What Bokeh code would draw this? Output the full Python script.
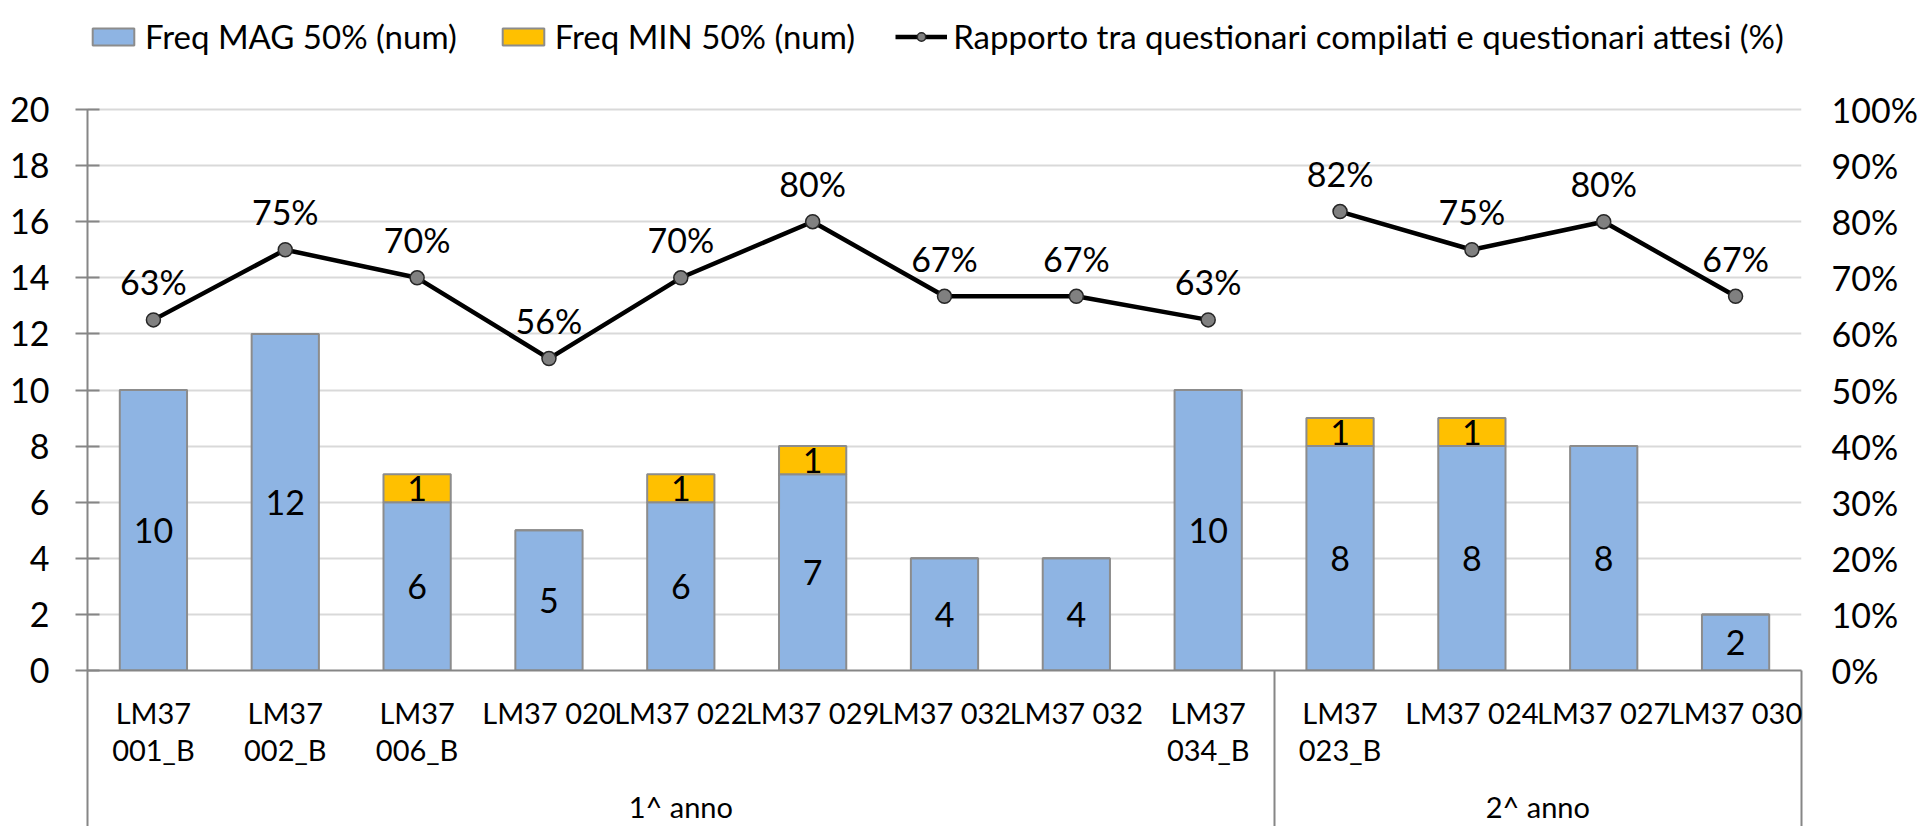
import math
from bokeh.plotting import figure
from bokeh.models import (ColumnDataSource, Range1d, LinearAxis, FixedTicker,
                          PrintfTickFormatter, Legend, LegendItem)
from bokeh.core.properties import value
from bokeh.embed import file_html
from bokeh.resources import INLINE

# ---------------- data ----------------
categories = ["LM37\n001_B", "LM37\n002_B", "LM37\n006_B", "LM37 020", "LM37 022",
              "LM37 029", "LM37 032", "LM37 032", "LM37\n034_B",
              "LM37\n023_B", "LM37 024", "LM37 027", "LM37 030"]
groups = ["1^ anno", "2^ anno"]
group_sizes = [9, 4]
freq_mag = [10, 12, 6, 5, 6, 7, 4, 4, 10, 8, 8, 8, 2]
freq_min = [0, 0, 1, 0, 1, 1, 0, 0, 0, 1, 1, 0, 0]
ratio_pct = [62.5, 75.0, 70.0, 55.6, 70.0, 80.0, 66.7, 66.7, 62.5, 81.8, 75.0, 80.0, 66.7]
left_ticks = [0, 2, 4, 6, 8, 10, 12, 14, 16, 18, 20]
right_ticks = [0, 10, 20, 30, 40, 50, 60, 70, 80, 90, 100]

FONT = "Lato"
FS_NUM = "34px"
FS_LEG = "33px"
FS_CAT = "29px"
GRAY = "#868686"

# layout: the frame reaches up to the legend; axes are bounded to 0..20 / 0..100
W, H = 1924, 826
B_LEFT, B_RIGHT, B_TOP, B_BOTTOM = 87, 123, 10, 156
PLOT_H = 561                      # height of the 0..20 value area
FRAME_H = H - B_TOP - B_BOTTOM
Y_MAX = left_ticks[-1] * FRAME_H / PLOT_H
PCT_MAX = right_ticks[-1] * FRAME_H / PLOT_H

xs = list(range(len(categories)))
src = ColumnDataSource(dict(
    x=xs, mag=freq_mag, min=freq_min, ratio=ratio_pct,
    ratio_lbl=["%d%%" % math.floor(v + 0.5) for v in ratio_pct],
    mag_mid=[m / 2 for m in freq_mag],
    mag_lbl=[str(m) for m in freq_mag],
))

p = figure(width=W, height=H, output_backend="svg", toolbar_location=None,
           x_range=Range1d(-0.5, len(categories) - 0.5), y_range=Range1d(0, Y_MAX),
           min_border_left=B_LEFT, min_border_right=B_RIGHT, min_border_top=B_TOP,
           min_border_bottom=B_BOTTOM)
p.outline_line_color = None
p.background_fill_color = "white"
p.extra_y_ranges = {"pct": Range1d(0, PCT_MAX)}

# grid
p.xgrid.visible = False
p.ygrid.ticker = FixedTicker(ticks=left_ticks)
p.ygrid.grid_line_color = "#D9D9D9"
p.ygrid.grid_line_width = 2

# left axis
ya = p.yaxis[0]
ya.ticker = FixedTicker(ticks=left_ticks)
ya.bounds = (left_ticks[0], left_ticks[-1])
ya.axis_line_color = GRAY
ya.axis_line_width = 2
ya.major_tick_line_color = GRAY
ya.major_tick_line_width = 2
ya.major_tick_in = 12
ya.major_tick_out = 12
ya.minor_tick_line_color = None
ya.major_label_standoff = 26
ya.major_label_text_font = FONT
ya.major_label_text_font_size = FS_NUM
ya.major_label_text_color = "#000000"

# right axis
ra = LinearAxis(y_range_name="pct", ticker=FixedTicker(ticks=right_ticks),
                formatter=PrintfTickFormatter(format="%d%%"),
                bounds=(right_ticks[0], right_ticks[-1]))
ra.axis_line_color = None
ra.major_tick_line_color = None
ra.minor_tick_line_color = None
ra.major_label_standoff = 24
ra.major_label_text_font = FONT
ra.major_label_text_font_size = FS_NUM
ra.major_label_text_color = "#000000"
ra.major_label_text_align = "left"
p.add_layout(ra, "right")

# bottom axis (categories); minor ticks draw the group separators
bounds = [-0.5]
for g in group_sizes:
    bounds.append(bounds[-1] + g)
xa = p.xaxis[0]
xa.ticker = FixedTicker(ticks=xs, minor_ticks=bounds)
xa.major_label_overrides = {i: c for i, c in enumerate(categories)}
xa.axis_line_color = GRAY
xa.axis_line_width = 2
xa.major_tick_line_color = None
xa.major_tick_in = 0
xa.major_tick_out = 0
xa.minor_tick_line_color = GRAY
xa.minor_tick_line_width = 2
xa.minor_tick_in = 0
xa.minor_tick_out = 220
xa.major_label_standoff = -196
xa.major_label_text_font = FONT
xa.major_label_text_font_size = FS_CAT
xa.major_label_text_color = "#000000"
xa.major_label_text_line_height = 1.08

# group axis
centers = [(bounds[i] + bounds[i + 1]) / 2 for i in range(len(groups))]
ga = LinearAxis(ticker=FixedTicker(ticks=centers),
                major_label_overrides={c: g for c, g in zip(centers, groups)})
ga.axis_line_color = None
ga.major_tick_line_color = None
ga.minor_tick_line_color = None
ga.major_tick_in = 0
ga.major_tick_out = 0
ga.major_label_standoff = 18
ga.major_label_text_font = FONT
ga.major_label_text_font_size = FS_CAT
ga.major_label_text_color = "#000000"
p.add_layout(ga, "below")

# bars
bars = p.vbar_stack(["mag", "min"], x="x", width=0.51, source=src,
                    fill_color=["#8EB4E3", "#FFC000"], line_color="#8C8C8C",
                    line_width=2)

# bar labels
p.text(x="x", y="mag_mid", text="mag_lbl", source=src, text_font=value(FONT),
       text_font_size=FS_NUM, text_align="center", text_baseline="middle",
       text_color="#000000")
min_idx = [i for i, v in enumerate(freq_min) if v > 0]
p.text(x=[xs[i] for i in min_idx], y=[freq_mag[i] + freq_min[i] / 2 for i in min_idx],
       text=[str(freq_min[i]) for i in min_idx], text_font=value(FONT),
       text_font_size=FS_NUM, text_align="center", text_baseline="middle",
       text_color="#000000")

# ratio line (broken between groups)
line_rs = []
for gi in range(len(groups)):
    a = int(bounds[gi] + 0.5)
    b = int(bounds[gi + 1] + 0.5)
    line_rs.append(p.line(xs[a:b], ratio_pct[a:b], y_range_name="pct",
                          line_color="#000000", line_width=4.5))
pts = p.scatter("x", "ratio", source=src, y_range_name="pct", size=14,
                fill_color="#808080", line_color="#262626", line_width=1.5)
p.text(x="x", y="ratio", text="ratio_lbl", source=src, y_range_name="pct",
       text_font=value(FONT), text_font_size=FS_NUM, text_align="center",
       text_baseline="middle", y_offset=-38, text_color="#000000")

legend = Legend(items=[
    LegendItem(label="Freq MAG 50% (num)", renderers=[bars[0]]),
    LegendItem(label="Freq MIN 50% (num)", renderers=[bars[1]]),
    LegendItem(label="Rapporto tra questionari compilati e questionari attesi (%)",
               renderers=[line_rs[0], pts]),
], orientation="horizontal", location=(0, FRAME_H - 46), glyph_width=52,
    glyph_height=21, label_standoff=6, spacing=40, padding=0, margin=0,
    label_text_font=FONT, label_text_font_size=FS_LEG, label_text_color="#000000",
    border_line_color=None, background_fill_alpha=0)
p.add_layout(legend)

open("out.html", "w").write(file_html(p, INLINE))
